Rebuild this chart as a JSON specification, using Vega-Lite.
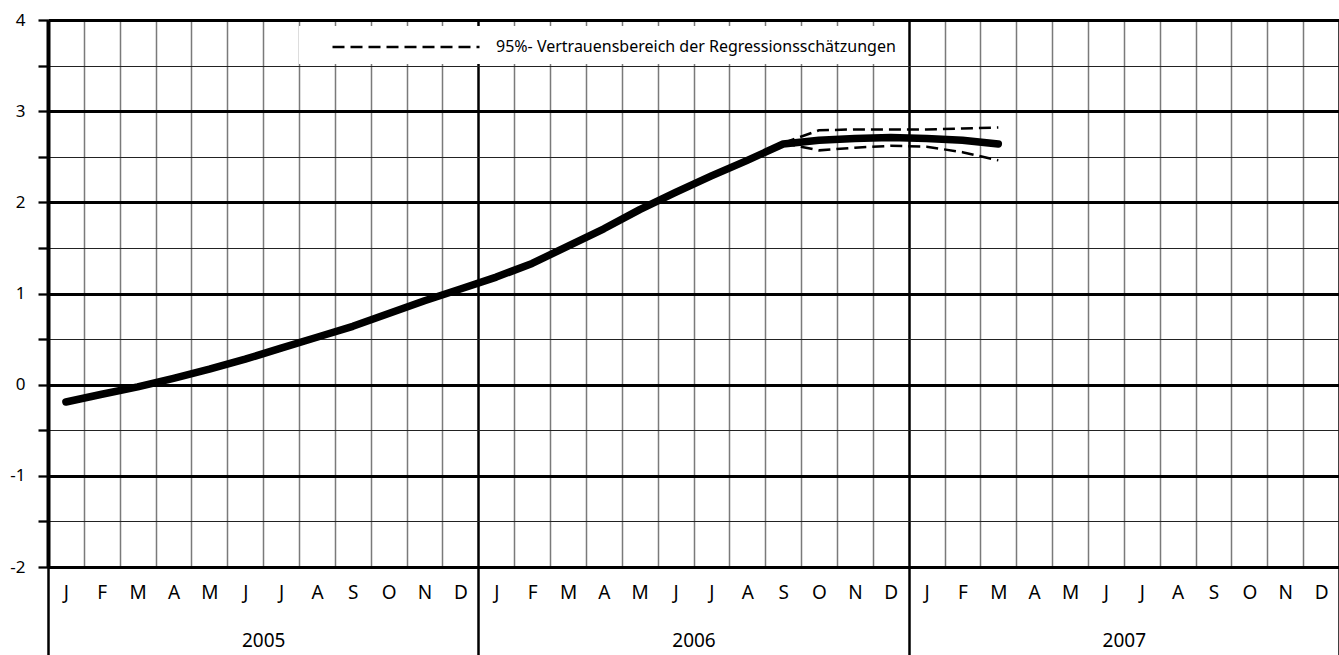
{
  "$schema": "https://vega.github.io/schema/vega-lite/v6.json",
  "width": 1291,
  "height": 547,
  "autosize": "none",
  "padding": {"left": 48, "top": 20, "right": 0, "bottom": 88},
  "config": {
    "view": {"stroke": null},
    "font": "Noto Sans",
    "axis": {"title": null, "labelColor": "black", "tickColor": "black", "domainColor": "black", "labelFont": "Noto Sans"}
  },
  "datasets": {
    "main": [
      {"month": 0, "value": -0.19}, {"month": 1, "value": -0.105}, {"month": 2, "value": -0.025},
      {"month": 3, "value": 0.07}, {"month": 4, "value": 0.17}, {"month": 5, "value": 0.28},
      {"month": 6, "value": 0.40}, {"month": 7, "value": 0.52}, {"month": 8, "value": 0.64},
      {"month": 9, "value": 0.78}, {"month": 10, "value": 0.92}, {"month": 11, "value": 1.05},
      {"month": 12, "value": 1.18}, {"month": 13, "value": 1.33}, {"month": 14, "value": 1.52},
      {"month": 15, "value": 1.71}, {"month": 16, "value": 1.92}, {"month": 17, "value": 2.11},
      {"month": 18, "value": 2.29}, {"month": 19, "value": 2.46}, {"month": 20, "value": 2.64},
      {"month": 21, "value": 2.68}, {"month": 22, "value": 2.70}, {"month": 23, "value": 2.71},
      {"month": 24, "value": 2.70}, {"month": 25, "value": 2.68}, {"month": 26, "value": 2.64}
    ],
    "band": [
      {"month": 20, "bound": "upper", "value": 2.65, "series": "95%- Vertrauensbereich der Regressionsschätzungen"},
      {"month": 21, "bound": "upper", "value": 2.79, "series": "95%- Vertrauensbereich der Regressionsschätzungen"},
      {"month": 22, "bound": "upper", "value": 2.80, "series": "95%- Vertrauensbereich der Regressionsschätzungen"},
      {"month": 23, "bound": "upper", "value": 2.80, "series": "95%- Vertrauensbereich der Regressionsschätzungen"},
      {"month": 24, "bound": "upper", "value": 2.80, "series": "95%- Vertrauensbereich der Regressionsschätzungen"},
      {"month": 25, "bound": "upper", "value": 2.81, "series": "95%- Vertrauensbereich der Regressionsschätzungen"},
      {"month": 26, "bound": "upper", "value": 2.82, "series": "95%- Vertrauensbereich der Regressionsschätzungen"},
      {"month": 20, "bound": "lower", "value": 2.65, "series": "95%- Vertrauensbereich der Regressionsschätzungen"},
      {"month": 21, "bound": "lower", "value": 2.57, "series": "95%- Vertrauensbereich der Regressionsschätzungen"},
      {"month": 22, "bound": "lower", "value": 2.60, "series": "95%- Vertrauensbereich der Regressionsschätzungen"},
      {"month": 23, "bound": "lower", "value": 2.62, "series": "95%- Vertrauensbereich der Regressionsschätzungen"},
      {"month": 24, "bound": "lower", "value": 2.61, "series": "95%- Vertrauensbereich der Regressionsschätzungen"},
      {"month": 25, "bound": "lower", "value": 2.55, "series": "95%- Vertrauensbereich der Regressionsschätzungen"},
      {"month": 26, "bound": "lower", "value": 2.46, "series": "95%- Vertrauensbereich der Regressionsschätzungen"}
    ]
  },
  "layer": [
    {
      "data": {"name": "main"},
      "mark": {"type": "line", "strokeOpacity": 0},
      "encoding": {
        "x": {"field": "month", "type": "quantitative", "scale": {"domain": [-0.5, 35.5], "nice": false, "zero": false},
          "axis": {"orient": "bottom", "values": [-0.5, 11.5, 23.5, 35.5], "grid": true, "gridColor": "black", "gridWidth": 2.5,
            "ticks": true, "tickSize": 88, "tickWidth": 2.5, "labels": false, "domain": false}},
        "y": {"field": "value", "type": "quantitative", "scale": {"domain": [-2, 4], "nice": false, "zero": false},
          "axis": {"orient": "left", "values": [-1.5, -0.5, 0.5, 1.5, 2.5, 3.5], "grid": true, "gridColor": "#222222", "gridWidth": 1.2,
            "ticks": true, "tickSize": 10, "tickWidth": 2.3, "labels": false, "domain": true, "domainWidth": 4}}
      }
    },
    {
      "data": {"name": "main"},
      "mark": {"type": "line", "strokeOpacity": 0},
      "encoding": {
        "x": {"field": "month", "type": "quantitative",
          "axis": {"orient": "bottom", "values": [-0.5, 0.5, 1.5, 2.5, 3.5, 4.5, 5.5, 6.5, 7.5, 8.5, 9.5, 10.5, 12.5, 13.5, 14.5, 15.5, 16.5, 17.5, 18.5, 19.5, 20.5, 21.5, 22.5, 24.5, 25.5, 26.5, 27.5, 28.5, 29.5, 30.5, 31.5, 32.5, 33.5, 34.5],
            "grid": true, "gridColor": "#7a7a7a", "gridWidth": 1.5, "ticks": false, "labels": false, "domain": false}},
        "y": {"field": "value", "type": "quantitative",
          "axis": {"orient": "left", "values": [-2, -1, 0, 1, 2, 3, 4], "grid": true, "gridColor": "black", "gridWidth": 3,
            "ticks": true, "tickSize": 10, "tickWidth": 2.3, "labels": true, "labelPadding": 13, "labelFontSize": 17, "domain": false,
            "labelExpr": "datum.value < 0 ? '-' + abs(datum.value) : '' + datum.value"}}
      }
    },
    {
      "data": {"name": "main"},
      "mark": {"type": "line", "strokeOpacity": 0},
      "encoding": {
        "x": {"field": "month", "type": "quantitative",
          "axis": {"orient": "bottom", "values": [0, 1, 2, 3, 4, 5, 6, 7, 8, 9, 10, 11, 12, 13, 14, 15, 16, 17, 18, 19, 20, 21, 22, 23, 24, 25, 26, 27, 28, 29, 30, 31, 32, 33, 34, 35],
            "labelExpr": "['J','F','M','A','M','J','J','A','S','O','N','D'][datum.value % 12]",
            "grid": false, "ticks": false, "domain": false, "labelPadding": 25, "labelBaseline": "middle", "labelFontSize": 19,
            "labelOverlap": false, "labelFlush": false}},
        "y": {"field": "value", "type": "quantitative", "axis": null}
      }
    },
    {
      "data": {"name": "main"},
      "mark": {"type": "line", "strokeOpacity": 0},
      "encoding": {
        "x": {"field": "month", "type": "quantitative",
          "axis": {"orient": "bottom", "values": [5.5, 17.5, 29.5],
            "labelExpr": "datum.value < 12 ? '2005' : (datum.value < 24 ? '2006' : '2007')",
            "grid": false, "ticks": false, "domain": false, "labelPadding": 73, "labelBaseline": "middle", "labelFontSize": 19,
            "labelOverlap": false, "labelFlush": false}},
        "y": {"field": "value", "type": "quantitative", "axis": null}
      }
    },
    {
      "data": {"name": "band"},
      "mark": {"type": "line", "color": "black", "strokeWidth": 2.5},
      "encoding": {
        "x": {"field": "month", "type": "quantitative", "axis": null},
        "y": {"field": "value", "type": "quantitative", "axis": null},
        "detail": {"field": "bound"},
        "strokeDash": {"field": "series", "type": "nominal", "scale": {"range": [[12, 6]]},
          "legend": {"orient": "none", "legendX": 251, "legendY": 6, "title": null, "fillColor": "white", "padding": 9,
            "symbolType": "M-7,0H7", "symbolSize": 441, "symbolStrokeWidth": 2.5, "symbolStrokeColor": "black", "symbolOffset": 86,
            "labelOffset": 78, "labelFontSize": 16, "labelColor": "black", "labelLimit": 0}}
      }
    },
    {
      "data": {"name": "main"},
      "mark": {"type": "line", "color": "black", "strokeWidth": 7.5, "strokeCap": "round", "strokeJoin": "round"},
      "encoding": {
        "x": {"field": "month", "type": "quantitative", "axis": null},
        "y": {"field": "value", "type": "quantitative", "axis": null}
      }
    }
  ],
  "resolve": {"axis": {"x": "independent", "y": "independent"}}
}
